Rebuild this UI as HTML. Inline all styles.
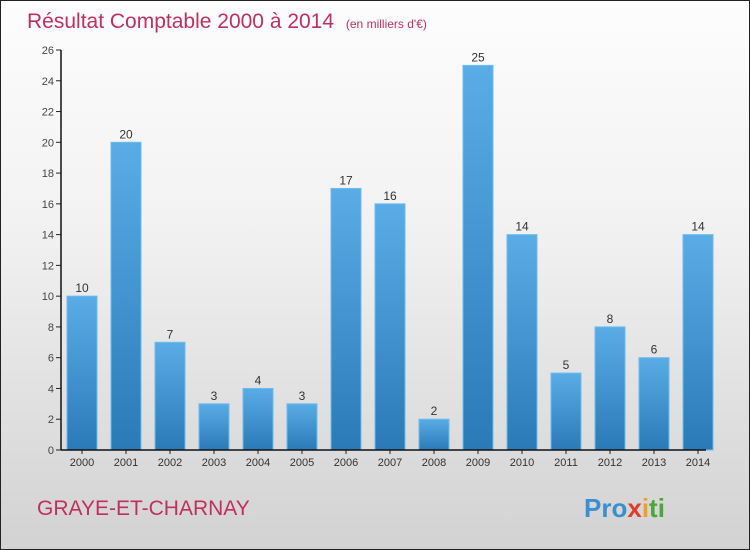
<!DOCTYPE html>
<html><head><meta charset="utf-8"><style>
body{margin:0}
#wrap{position:relative;width:748px;height:548px;border:1px solid #222;background:linear-gradient(#fdfdfd,#f2f2f2 40%,#d2d2d2);font-family:"Liberation Sans",sans-serif;overflow:hidden}
</style></head><body>
<div id="wrap">
<svg id="chart" width="748" height="548">
<defs><linearGradient id="bg" x1="0" y1="0" x2="0" y2="1"><stop offset="0" stop-color="#5aace6"/><stop offset="1" stop-color="#2a7ab8"/></linearGradient></defs>
<text x="26" y="27" font-size="21" fill="#c0305e">Résultat Comptable 2000 à 2014 <tspan font-size="12" dx="6">(en milliers d'€)</tspan></text>
<text x="36" y="514" font-size="21" fill="#c0305e">GRAYE-ET-CHARNAY</text>
<text x="583" y="516" font-size="26" font-weight="bold"><tspan fill="#3a8fd0">Pro</tspan><tspan fill="#e23a2a">x</tspan><tspan fill="#f0a020">i</tspan><tspan fill="#4aa838">ti</tspan></text>
<g id="g"></g>
</svg>
</div>
<script>
const categories=["2000","2001","2002","2003","2004","2005","2006","2007","2008","2009","2010","2011","2012","2013","2014"];
const values=[10,20,7,3,4,3,17,16,2,25,14,5,8,6,14];
const yTicks=[0,2,4,6,8,10,12,14,16,18,20,22,24,26];
const NS="http://www.w3.org/2000/svg";
const g=document.getElementById('g');
const y0=449,yTop=49,yMax=26;
const y=v=>y0-(v/yMax)*(y0-yTop);
const x=i=>81+i*44;
function mk(t,a){const e=document.createElementNS(NS,t);for(const k in a)e.setAttribute(k,a[k]);g.appendChild(e);return e;}
yTicks.forEach(t=>{
 const l=mk('line',{x1:55,x2:60,y1:y(t),y2:y(t),stroke:'#222'});
 
 
 const tx=mk('text',{x:53,y:y(t)+4,'font-size':11,fill:'#444','text-anchor':'end'});
 tx.textContent=t;
 
 
});
values.forEach((v,i)=>{
 const r=mk('rect',{x:x(i)-15,y:y(v),width:30,height:y0-y(v),fill:'url(#bg)',stroke:'#6bbcf0','stroke-width':1});
 
 
 const t=mk('text',{x:x(i),y:y(v)-4,'font-size':12,fill:'#333','text-anchor':'middle'});
 t.textContent=v;
 
 
 const c=mk('text',{x:x(i),y:465,'font-size':11,fill:'#333','text-anchor':'middle'});
 c.textContent=categories[i];
 
 
 const tk=mk('line',{x1:x(i),x2:x(i),y1:y0,y2:y0+4,stroke:'#222'});
 
 
});
const ya=mk('line',{x1:60,x2:60,y1:yTop,y2:y0,stroke:'#111','stroke-width':1.5});


const xa=mk('line',{x1:60,x2:705,y1:y0,y2:y0,stroke:'#111','stroke-width':1.5});


</script>
</body></html>
